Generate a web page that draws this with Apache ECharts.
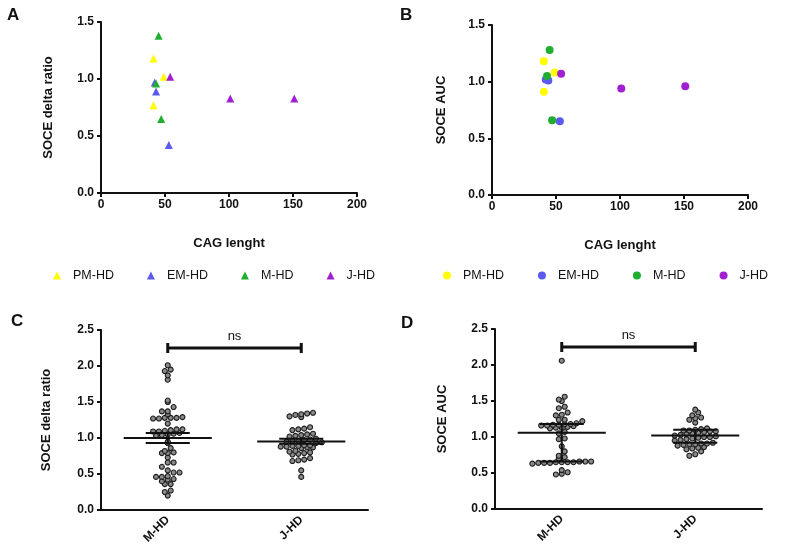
<!DOCTYPE html>
<html>
<head>
<meta charset="utf-8">
<script src="https://cdn.jsdelivr.net/npm/echarts@6/dist/echarts.min.js"></script>
<style>
  html, body { margin: 0; background: #fff; }
  #chart { width: 787px; height: 557px; }
</style>
</head>
<body>
<div id="chart"></div>
<script>
// groups shown in the legends of A and B
const groups = ['PM-HD', 'EM-HD', 'M-HD', 'J-HD'];
const groupColors = ['#ffff00', '#5a5af0', '#1fae2f', '#a020d0'];

// A: [CAG length, SOCE delta ratio]
const deltaPM = [[41, 1.18], [49, 1.02], [41, 0.77]];
const deltaEM = [[42, 0.97], [43, 0.89], [53, 0.42]];
const deltaM = [[45, 1.38], [43, 0.96], [47, 0.65]];
const deltaJ = [[54, 1.02], [101, 0.83], [151, 0.83]];

// B: [CAG length, SOCE AUC]
const aucPM = [[40.5, 1.18], [49, 1.08], [40.5, 0.91]];
const aucEM = [[42, 1.02], [44, 1.01], [53, 0.65]];
const aucM = [[45, 1.28], [43, 1.05], [47, 0.66]];
const aucJ = [[54, 1.07], [101, 0.94], [151, 0.96]];

// C / D dot plots
const cats = ['M-HD', 'J-HD'];
const deltaMHD = [2.01, 1.95, 1.93, 1.87, 1.81, 1.52, 1.50, 1.43, 1.37, 1.37, 1.33, 1.29, 1.28, 1.28, 1.28, 1.27, 1.27, 1.20,
  1.12, 1.12, 1.11, 1.10, 1.09, 1.09, 1.07, 1.06, 1.05, 1.04, 1.03, 0.95, 0.93, 0.86, 0.82, 0.80, 0.79, 0.79, 0.73,
  0.66, 0.66, 0.60, 0.55, 0.52, 0.52, 0.47, 0.46, 0.46, 0.43, 0.42, 0.40, 0.36, 0.36, 0.27, 0.25, 0.20];
const deltaJHD = [1.35, 1.34, 1.33, 1.32, 1.30, 1.29, 1.15, 1.13, 1.12, 1.11, 1.06, 1.05, 1.04, 1.03, 1.02,
  0.99, 0.98, 0.97, 0.96, 0.96, 0.95, 0.94, 0.93, 0.90, 0.90, 0.89, 0.89, 0.88, 0.88, 0.87, 0.87, 0.86,
  0.82, 0.81, 0.80, 0.79, 0.78, 0.77, 0.72, 0.70, 0.69, 0.68, 0.55, 0.46];
const aucMHD = [2.06, 1.56, 1.52, 1.50, 1.42, 1.40, 1.34, 1.31, 1.30, 1.24, 1.24, 1.22, 1.19, 1.18, 1.18, 1.17, 1.17,
  1.16, 1.16, 1.15, 1.14, 1.13, 1.13, 1.12, 1.07, 1.05, 0.98, 0.97, 0.87, 0.80, 0.74, 0.72, 0.70,
  0.66, 0.66, 0.66, 0.65, 0.65, 0.65, 0.65, 0.64, 0.64, 0.64, 0.63, 0.54, 0.51, 0.49, 0.48];
const aucJHD = [1.38, 1.34, 1.30, 1.27, 1.26, 1.24, 1.20, 1.12, 1.11, 1.10, 1.09, 1.09, 1.08, 1.08, 1.07, 1.06,
  1.05, 1.04, 1.03, 1.02, 1.01, 1.00, 1.00, 0.99, 0.98, 0.97, 0.96, 0.95, 0.92, 0.91, 0.91, 0.90, 0.90,
  0.89, 0.88, 0.86, 0.85, 0.84, 0.83, 0.80, 0.76, 0.74];

// [centre, low, high] of the bars per category
const deltaSummary = [[1.00, 0.93, 1.07], [0.95, 0.92, 0.99]];
const aucSummary = [[1.06, 0.66, 1.18], [1.02, 0.92, 1.10]];
const bracketY = [2.25, 2.25];
const bracketText = 'ns';

const font = 'Liberation Sans';
const ink = '#111';

// bin values by height and spread each bin sideways around the category centre
const swarm = (values, centre, binH = 0.07, dx = 0.044) => {
  const bins = {};
  [...values].sort((a, b) => a - b).forEach(v => {
    const k = Math.round(v / binH);
    (bins[k] = bins[k] || []).push(v);
  });
  const out = [];
  Object.values(bins).forEach(arr => {
    arr.forEach((v, i) => out.push([centre + (i - (arr.length - 1) / 2) * dx, v]));
  });
  return out;
};

const axisLine = { lineStyle: { color: ink, width: 2 } };
const axisTick = { length: 4, lineStyle: { color: ink, width: 2 } };
const label = { color: ink, fontWeight: 'bold', fontSize: 12, fontFamily: font };
const nameStyle = { color: ink, fontWeight: 'bold', fontSize: 13, fontFamily: font };

const cagAxis = (gridIndex) => ({
  type: 'value', gridIndex, min: 0, max: 200, interval: 50,
  name: 'CAG lenght', nameLocation: 'middle', nameGap: 44, nameTextStyle: nameStyle,
  axisLine, axisTick, axisLabel: { ...label, margin: 6 }, splitLine: { show: false }
});
const valAxis = (gridIndex, max, name, nameGap) => ({
  type: 'value', gridIndex, min: 0, max, interval: 0.5,
  name, nameLocation: 'middle', nameGap, nameTextStyle: nameStyle,
  axisLine: { ...axisLine, onZero: false }, axisTick,
  axisLabel: { ...label, margin: 7, formatter: v => v.toFixed(1) }, splitLine: { show: false }
});
const catAxis = (gridIndex) => ({
  type: 'category', gridIndex, data: cats,
  axisLine, axisTick: { ...axisTick, alignWithLabel: true },
  axisLabel: { ...label, rotate: 45, margin: 8 }
});
const hiddenX = (gridIndex) => ({ type: 'value', gridIndex, min: 0, max: 2, show: false });

const groupSeries = (sets, symbol, x, y) => sets.map((data, i) => ({
  name: groups[i], type: 'scatter', symbol, symbolSize: 8,
  xAxisIndex: x, yAxisIndex: y, data,
  itemStyle: { color: groupColors[i], opacity: 1 }
}));

const dotSeries = (vals, x, y) => ({
  type: 'scatter', xAxisIndex: x, yAxisIndex: y, silent: true,
  symbolSize: 5, data: vals.flatMap((v, i) => swarm(v, i + 0.5)),
  itemStyle: { color: '#8a8a8a', borderColor: '#1e1e1e', borderWidth: 1.1, opacity: 1 }
});

const summarySeries = (summary, x, y) => ({
  type: 'custom', xAxisIndex: x, yAxisIndex: y, silent: true, z: 5,
  data: summary.map((s, i) => [i + 0.5, ...s]),
  renderItem: (params, api) => {
    const cx = api.value(0), m = api.value(1), lo = api.value(2), hi = api.value(3);
    const seg = (x1, y1, x2, y2) => {
      const a = api.coord([x1, y1]), b = api.coord([x2, y2]);
      return { type: 'line', shape: { x1: a[0], y1: a[1], x2: b[0], y2: b[1] }, style: { stroke: ink, lineWidth: 2 } };
    };
    return {
      type: 'group',
      children: [
        seg(cx - 0.33, m, cx + 0.33, m),
        seg(cx, lo, cx, hi),
        seg(cx - 0.165, lo, cx + 0.165, lo),
        seg(cx - 0.165, hi, cx + 0.165, hi)
      ]
    };
  }
});

const bracketSeries = (x, y) => ({
  type: 'custom', xAxisIndex: x, yAxisIndex: y, silent: true, z: 5,
  data: [[0.5, bracketY[0], 1.5, bracketY[1]]],
  renderItem: (params, api) => {
    const a = api.coord([api.value(0), api.value(1)]);
    const b = api.coord([api.value(2), api.value(3)]);
    const st = { stroke: ink, lineWidth: 3 };
    return {
      type: 'group',
      children: [
        { type: 'line', shape: { x1: a[0], y1: a[1], x2: b[0], y2: b[1] }, style: st },
        { type: 'line', shape: { x1: a[0], y1: a[1] - 5, x2: a[0], y2: a[1] + 5 }, style: st },
        { type: 'line', shape: { x1: b[0], y1: b[1] - 5, x2: b[0], y2: b[1] + 5 }, style: st },
        { type: 'text', style: { text: bracketText, x: (a[0] + b[0]) / 2, y: a[1] - 5, align: 'center', verticalAlign: 'bottom', font: '13px ' + font, fill: ink } }
      ]
    };
  }
});

const legendBase = {
  top: 264, itemWidth: 8, itemHeight: 8, selectedMode: false,
  textStyle: { fontSize: 12.5, color: ink, fontFamily: font, padding: [0, 0, 0, 7] }
};

const letter = (text, left, top) => ({ type: 'text', left, top, style: { text, font: 'bold 17px ' + font, fill: ink } });

const chart = echarts.init(document.getElementById('chart'));
chart.setOption({
  animation: false,
  textStyle: { fontFamily: font },
  graphic: [letter('A', 7, 7), letter('B', 400, 7), letter('C', 11, 313), letter('D', 401, 315)],
  legend: [
    { ...legendBase, left: 48, itemGap: 33, data: groups.map(name => ({ name, icon: 'triangle' })) },
    { ...legendBase, left: 438, itemGap: 34, data: groups.map(name => ({ name, icon: 'circle' })) }
  ],
  grid: [
    { left: 101, top: 22, width: 256, height: 171 },
    { left: 492, top: 25, width: 256, height: 170 },
    { left: 101, top: 330, width: 267, height: 180 },
    { left: 495, top: 329, width: 267, height: 180 }
  ],
  xAxis: [cagAxis(0), cagAxis(1), catAxis(2), hiddenX(2), catAxis(3), hiddenX(3)],
  yAxis: [
    valAxis(0, 1.5, 'SOCE delta ratio', 46),
    valAxis(1, 1.5, 'SOCE AUC', 44),
    valAxis(2, 2.5, 'SOCE delta ratio', 48),
    valAxis(3, 2.5, 'SOCE AUC', 46)
  ],
  series: [
    ...groupSeries([deltaPM, deltaEM, deltaM, deltaJ], 'triangle', 0, 0),
    ...groupSeries([aucPM, aucEM, aucM, aucJ], 'circle', 1, 1),
    dotSeries([deltaMHD, deltaJHD], 3, 2),
    summarySeries(deltaSummary, 3, 2),
    bracketSeries(3, 2),
    dotSeries([aucMHD, aucJHD], 5, 3),
    summarySeries(aucSummary, 5, 3),
    bracketSeries(5, 3)
  ]
});
</script>
</body>
</html>
